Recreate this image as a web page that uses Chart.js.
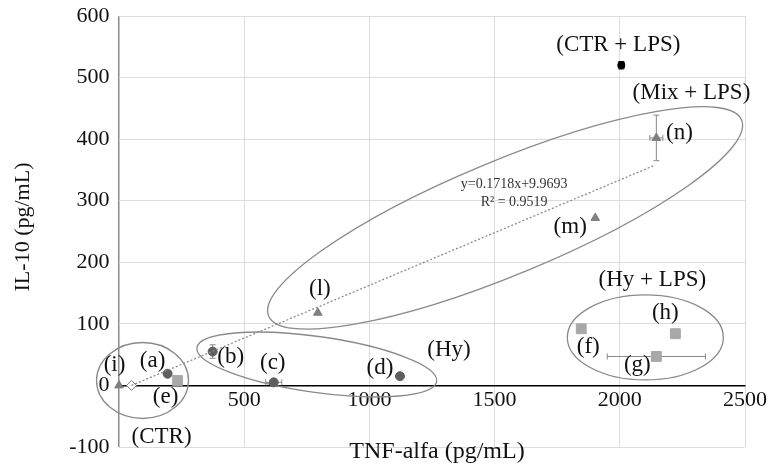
<!DOCTYPE html>
<html lang="en">
<head>
<meta charset="UTF-8">
<title>TNF-alfa vs IL-10</title>
<style>
  html, body { margin: 0; padding: 0; background: #fff; }
  #wrap { width: 769px; height: 466px; }
</style>
</head>
<body>
<div id="wrap"><canvas id="chart" width="769" height="466"></canvas></div>
<script src="https://cdn.jsdelivr.net/npm/chart.js"></script>
<script>
// TNF-alfa (x) vs IL-10 (y), both pg/mL

// circles: (a) (b) (c) (d)
const circleX = [194, 374, 618, 1122];
const circleY = [19, 55, 5, 15];
const circleErrX = [0, 0, 32, 0];
const circleErrY = [0, 11, 0, 0];

// squares: (e) (f) (g) (h)
const squareX = [234, 1846, 2146, 2222];
const squareY = [8, 92, 47, 84];
const squareErrX = [0, 0, 196, 0];
const squareErrY = [0, 0, 0, 0];

// triangles: (i) (l) (m) (n)
const triangleX = [0, 794, 1902, 2146];
const triangleY = [0, 118, 272, 402];
const triangleErrX = [0, 0, 0, 26];
const triangleErrY = [0, 0, 0, 37];

// open diamond next to (i)
const openX = [50];
const openY = [0];

// CTR + LPS
const lpsX = [2006];
const lpsY = [520];
const lpsErrX = [12];
const lpsErrY = [6];

// dotted regression line
const trendX = [50, 2142];
const trendY = [0, 358];
const trendText = ['y=0.1718x+9.9693', 'R² = 0.9519'];

const xMin = 0, xMax = 2500, xStep = 500;
const yMin = -100, yMax = 600, yStep = 100;

// text labels, anchored in data units
const labelText = ['(a)', '(b)', '(c)', '(d)', '(e)', '(f)', '(g)', '(h)', '(i)', '(l)', '(m)', '(n)',
  '(CTR)', '(Hy)', '(Hy + LPS)', '(Mix + LPS)', '(CTR + LPS)'];
const labelX = [134, 446, 614, 1042, 186, 1874, 2070, 2182, -18, 802, 1802, 2238,
  170, 1318, 2130, 2286, 1994];
const labelY = [39, 47, 37, 28, -19, 63, 34, 118, 34, 156, 258, 410,
  -83, 58, 172, 475, 553];

// group ellipses: centre in data units, radii in px, angle in degrees
const ellipses = [
  { x: 94, y: 8, rx: 46, ry: 38, rot: 0 },
  { x: 790, y: 34, rx: 121, ry: 28, rot: 8 },
  { x: 1542, y: 272, rx: 256, ry: 57, rot: -22.5 },
  { x: 2102, y: 78, rx: 78, ry: 42.5, rot: 0 }
];

const serif = "'Liberation Serif', 'Times New Roman', serif";

function pts(xs, ys) {
  return xs.map((x, i) => ({ x: x, y: ys[i] }));
}

// keep the tick labels from pushing the plot area inwards
function noPad(scale) {
  scale.paddingTop = 0;
  scale.paddingBottom = 0;
  scale.paddingLeft = 0;
  scale.paddingRight = 0;
}

const extras = {
  id: 'extras',
  beforeDatasetsDraw(chart) {
    const ctx = chart.ctx;
    const sx = chart.scales.x, sy = chart.scales.y;
    ctx.save();
    // ellipses
    ctx.strokeStyle = '#8a8a8a';
    ctx.lineWidth = 1.3;
    ellipses.forEach(e => {
      ctx.beginPath();
      ctx.ellipse(sx.getPixelForValue(e.x), sy.getPixelForValue(e.y), e.rx, e.ry,
        e.rot * Math.PI / 180, 0, Math.PI * 2);
      ctx.stroke();
    });
    // error bars
    chart.data.datasets.forEach(ds => {
      if (!ds.errX) return;
      ctx.strokeStyle = ds.errColor || '#8a8a8a';
      ctx.lineWidth = 1;
      ds.data.forEach((p, i) => {
        const px = sx.getPixelForValue(p.x), py = sy.getPixelForValue(p.y);
        const ex = ds.errX[i], ey = ds.errY[i];
        ctx.beginPath();
        if (ex) {
          const x1 = sx.getPixelForValue(p.x - ex), x2 = sx.getPixelForValue(p.x + ex);
          ctx.moveTo(x1, py); ctx.lineTo(x2, py);
          ctx.moveTo(x1, py - 3); ctx.lineTo(x1, py + 3);
          ctx.moveTo(x2, py - 3); ctx.lineTo(x2, py + 3);
        }
        if (ey) {
          const y1 = sy.getPixelForValue(p.y - ey), y2 = sy.getPixelForValue(p.y + ey);
          ctx.moveTo(px, y1); ctx.lineTo(px, y2);
          ctx.moveTo(px - 3, y1); ctx.lineTo(px + 3, y1);
          ctx.moveTo(px - 3, y2); ctx.lineTo(px + 3, y2);
        }
        ctx.stroke();
      });
    });
    ctx.restore();
  },
  afterDraw(chart) {
    const ctx = chart.ctx;
    const sx = chart.scales.x, sy = chart.scales.y;
    ctx.save();
    ctx.fillStyle = '#111';
    ctx.textAlign = 'center';
    ctx.textBaseline = 'middle';
    ctx.font = '23px ' + serif;
    labelText.forEach((t, i) => {
      ctx.fillText(t, sx.getPixelForValue(labelX[i]), sy.getPixelForValue(labelY[i]));
    });
    // regression text
    ctx.font = '14px ' + serif;
    ctx.fillStyle = '#333';
    const tx = sx.getPixelForValue(1578);
    ctx.fillText(trendText[0], tx, sy.getPixelForValue(326));
    ctx.fillText(trendText[1], tx, sy.getPixelForValue(298));
    // axis titles
    ctx.fillStyle = '#111';
    ctx.font = '24px ' + serif;
    ctx.fillText('TNF-alfa (pg/mL)', 437, 452);
    ctx.translate(23, 227);
    ctx.rotate(-Math.PI / 2);
    ctx.font = '22px ' + serif;
    ctx.fillText('IL-10 (pg/mL)', 0, 0);
    ctx.restore();
  }
};

new Chart(document.getElementById('chart'), {
  type: 'scatter',
  data: {
    datasets: [
      {
        label: 'trend',
        data: pts(trendX, trendY),
        showLine: true,
        borderColor: '#8c8c8c',
        borderWidth: 1.3,
        borderDash: [2, 2],
        pointRadius: 0
      },
      {
        label: 'circles',
        data: pts(circleX, circleY),
        errX: circleErrX, errY: circleErrY,
        pointStyle: 'circle',
        pointRadius: 4.5,
        backgroundColor: '#5e5e5e',
        borderColor: '#5e5e5e'
      },
      {
        label: 'squares',
        data: pts(squareX, squareY),
        errX: squareErrX, errY: squareErrY,
        pointStyle: 'rect',
        pointRadius: 7,
        backgroundColor: '#a8a8a8',
        borderColor: '#a8a8a8'
      },
      {
        label: 'triangles',
        data: pts(triangleX, triangleY),
        errX: triangleErrX, errY: triangleErrY,
        pointStyle: 'triangle',
        pointRadius: 5,
        clip: false,
        backgroundColor: '#808080',
        borderColor: '#808080'
      },
      {
        label: 'open',
        data: pts(openX, openY),
        pointStyle: 'rectRot',
        pointRadius: 5,
        backgroundColor: '#ffffff',
        borderColor: '#777777',
        borderWidth: 1
      },
      {
        label: 'CTR + LPS',
        data: pts(lpsX, lpsY),
        errX: lpsErrX, errY: lpsErrY, errColor: '#000',
        pointStyle: 'circle',
        pointRadius: 3.5,
        backgroundColor: '#000',
        borderColor: '#000'
      }
    ]
  },
  options: {
    responsive: false,
    animation: false,
    layout: { padding: { left: 119, right: 24, top: 16, bottom: 19 } },
    plugins: {
      legend: { display: false },
      tooltip: { enabled: false }
    },
    scales: {
      x: {
        type: 'linear',
        min: xMin, max: xMax,
        position: { y: 0 },
        afterFit: noPad,
        // the x = 0 grid line doubles as the gray IL-10 axis line
        grid: {
          drawTicks: false,
          color: c => c.tick && c.tick.value === 0 ? '#8c8c8c' : '#dcdcdc',
          lineWidth: c => c.tick && c.tick.value === 0 ? 1.5 : 1
        },
        border: { display: true, color: '#000', width: 1.5 },
        ticks: {
          stepSize: xStep,
          padding: 2,
          color: '#111',
          font: { family: serif, size: 22 },
          maxRotation: 0,
          callback: v => v === 0 ? '' : v
        }
      },
      y: {
        type: 'linear',
        min: yMin, max: yMax,
        // labels sit a little left of the x = 0 line
        position: { x: -38 },
        afterFit: noPad,
        grid: { color: '#dcdcdc', drawTicks: false },
        border: { display: false },
        ticks: {
          stepSize: yStep,
          color: '#111',
          font: { family: serif, size: 22 }
        }
      }
    }
  },
  plugins: [extras]
});
</script>
</body>
</html>
